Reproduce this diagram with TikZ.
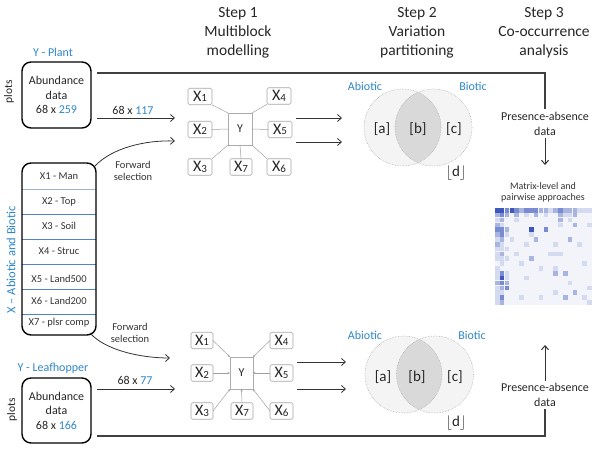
\documentclass[tikz,border=0pt]{standalone}
\usepackage{fontspec}
\setmainfont{Carlito}
\usetikzlibrary{arrows.meta,calc}
\definecolor{tblue}{RGB}{46,134,200}
\definecolor{sepblue}{RGB}{84,130,200}
\definecolor{seplight}{RGB}{160,180,205}
\definecolor{mblue}{RGB}{40,70,180}
\begin{document}
\begin{tikzpicture}[x=1pt,y=-1pt,
  every node/.style={inner sep=0pt,outer sep=0pt},
  steptxt/.style={align=center,text=black!85,font=\fontsize{15.5}{19}\selectfont},
  bluelab/.style={text=tblue,font=\fontsize{12}{14}\selectfont},
  plainlab/.style={text=black!85,font=\fontsize{12}{14.5}\selectfont,align=center},
  smalllab/.style={text=black!80,font=\fontsize{10.5}{12}\selectfont,align=center},
  databox/.style={draw=black,line width=1.4pt,rounded corners=9pt,minimum width=69pt,align=center,
     text=black!85,font=\fontsize{12}{14.5}\selectfont},
  listbox/.style={draw=black,line width=1.4pt,rounded corners=9pt,minimum width=74pt,minimum height=172pt},
  xb/.style={draw=gray!70,line width=0.6pt,rounded corners=1.5pt,minimum height=16.5pt,fill=white,
     font=\fontsize{16}{16}\selectfont,text=black!85},
  yb/.style={draw=gray!65,line width=0.6pt,minimum width=24pt,minimum height=32pt,fill=white,
     font=\fontsize{12}{12}\selectfont,text=black!85},
  arr/.style={-{Straight Barb[length=4pt,width=7pt]},line width=0.8pt,draw=black!80},
  conn/.style={line width=1.1pt,draw=black!75},
  spoke/.style={line width=0.5pt,draw=gray!75},
  spokea/.style={line width=0.5pt,draw=gray!75,-{Stealth[length=2.6pt,width=2.2pt]}},
  vlab/.style={font=\fontsize{15}{15}\selectfont,text=black!85},
  vcirc/.style={draw=gray!60,densely dotted,line width=0.6pt}
]
\useasboundingbox (0,0) rectangle (603,449);
\newcommand{\xs}[1]{X\raisebox{-0.6pt}{\fontsize{11}{11}\selectfont #1}}

% step headings
\node[steptxt] (s1) at (238,33) {Step 1\\Multiblock\\modelling};
\node[steptxt] (s2) at (417,33) {Step 2\\Variation\\partitioning};
\node[steptxt] (s3) at (544,33) {Step 3\\Co-occurrence\\analysis};

% left column
\node[bluelab] (lp) at (53,52) {Y - Plant};
\node[databox,minimum height=66pt] (yplant) at (56.5,95) {Abundance\\data\\68 x \textcolor{tblue}{259}};
\node[plainlab,rotate=90,font=\fontsize{11.5}{12}\selectfont] (pl1) at (9,92) {plots};

\foreach \yy/\sc in {189/seplight,214/sepblue,239/sepblue,264/sepblue,289/sepblue,314/sepblue}
  \draw[\sc,line width=0.9pt] (22,\yy) -- (96,\yy);
\node[listbox] (xlist) at (59,249) {};
\foreach \t/\yy in {X1 - Man/176,X2 - Top/202,X3 - Soil/226,X4 - Struc/251,X5 - Land500/279,X6 - Land200/301,X7 - plsr comp/323}
  \node[smalllab] at (59,\yy) {\t};
\node[bluelab,rotate=90,font=\fontsize{12.5}{13}\selectfont] (xlab) at (11,260) {X – Abiotic and Biotic};

\node[bluelab] (ll) at (53,368) {Y - Leafhopper};
\node[databox,minimum height=65pt] (yleaf) at (56.5,410.5) {Abundance\\data\\68 x \textcolor{tblue}{166}};
\node[plainlab,rotate=90,font=\fontsize{11.5}{12}\selectfont] (pl2) at (12,410) {plots};

% upper arrows into step 1
\coordinate (in1) at (175,118);
\coordinate (in2) at (175,141);
\node[plainlab] (n117) at (133,110) {68 x \textcolor{tblue}{117}};
\draw[arr] ([shift={(6,-10)}]yplant.south east) -- (in1);
\draw[arr] (95,166) .. controls (112,148) and (145,140) .. (in2);
\node[smalllab] (fs1) at (133,171) {Forward\\selection};

% lower arrows into step 1
\coordinate (in3) at (170,358);
\coordinate (in4) at (175,389);
\node[smalllab] (fs2) at (130,333) {Forward\\selection};
\draw[arr] (90,333) .. controls (105,350) and (140,358) .. (in3);
\node[plainlab] (n77) at (135,380) {68 x \textcolor{tblue}{77}};
\draw[arr] ([shift={(6,11)}]yleaf.north east) -- (in4);

% multiblock top
\node[yb] (yt) at (240,129) {Y};
\node[xb,minimum width=24pt] (x1t) at (200,96.5) {\xs{1}};
\node[xb,minimum width=24pt] (x2t) at (200,129.5) {\xs{2}};
\node[xb,minimum width=24pt] (x3t) at (200,167) {\xs{3}};
\node[xb,minimum width=24pt] (x4t) at (279,96) {\xs{4}};
\node[xb,minimum width=24pt] (x5t) at (280,129.5) {\xs{5}};
\node[xb,minimum width=24pt] (x6t) at (279,167) {\xs{6}};
\node[xb,minimum width=22pt] (x7t) at (241,167) {\xs{7}};
\draw[spoke] (x1t.south east) -- (yt.north west);
\draw[spoke] (x2t.east) -- (yt.west);
\draw[spoke] (x3t.north east) -- (yt.south west);
\draw[spoke] (x4t.south west) -- (yt.north east);
\draw[spoke] (x5t.west) -- (yt.east);
\draw[spoke] (x6t.north west) -- (yt.south east);
\draw[spoke] (x7t.north) -- (yt.south);

% multiblock bottom
\node[yb,minimum width=23pt] (ybt) at (241.5,373) {Y};
\node[xb,minimum width=22pt] (x1b) at (202,340.5) {\xs{1}};
\node[xb,minimum width=22pt] (x2b) at (202,373) {\xs{2}};
\node[xb,minimum width=22pt] (x3b) at (202,411) {\xs{3}};
\node[xb,minimum width=23pt] (x4b) at (281.5,340.5) {\xs{4}};
\node[xb,minimum width=23pt] (x5b) at (281.5,373) {\xs{5}};
\node[xb,minimum width=23pt] (x6b) at (281.5,411) {\xs{6}};
\node[xb,minimum width=22pt] (x7b) at (242,411) {\xs{7}};
\draw[spokea] (x1b.east) -- (ybt.north west);
\draw[spokea] (x2b.east) -- (ybt.west);
\draw[spokea] (x3b.east) -- (ybt.south west);
\draw[spokea] (x4b.west) -- (ybt.north east);
\draw[spokea] (x5b.west) -- (ybt.east);
\draw[spokea] (x6b.west) -- (ybt.south east);
\draw[spokea] (x7b.north) -- (ybt.south);

% arrows step1 -> step2
\coordinate (t1a) at (296,118); \coordinate (t1b) at (342,118);
\coordinate (t2a) at (296,142); \coordinate (t2b) at (342,142);
\coordinate (b1a) at (297,362); \coordinate (b1b) at (346,362);
\coordinate (b2a) at (297,389); \coordinate (b2b) at (346,389);
\draw[arr] (t1a) -- (t1b);
\draw[arr] (t2a) -- (t2b);
\draw[arr] (b1a) -- (b1b);
\draw[arr] (b2a) -- (b2b);

% venn top
\coordinate (vla) at (402.5,127.5);
\coordinate (vlb) at (433.5,127.5);
\fill[gray!9] (vla) circle[radius=38.5];
\fill[gray!9] (vlb) circle[radius=38.5];
\begin{scope}
  \clip (vla) circle[radius=38.5];
  \fill[gray!30] (vlb) circle[radius=38.5];
\end{scope}
\draw[vcirc] (vla) circle[radius=38.5];
\draw[vcirc] (vlb) circle[radius=38.5];
\node[vlab] (ta) at (382,129) {[a]};
\node[vlab] (tb) at (418,129) {[b]};
\node[vlab] (tc) at (454,129) {[c]};
\node[vlab] (td) at (456,173) {$\lfloor\mathrm{d}\rfloor$};
\node[bluelab] (abt) at (365,86) {Abiotic};
\node[bluelab] (bit) at (473,86) {Biotic};

% venn bottom
\coordinate (vba) at (403.5,374.5);
\coordinate (vbb) at (435,374.5);
\fill[gray!9] (vba) circle[radius=38.5];
\fill[gray!9] (vbb) circle[radius=38.5];
\begin{scope}
  \clip (vba) circle[radius=38.5];
  \fill[gray!30] (vbb) circle[radius=38.5];
\end{scope}
\draw[vcirc] (vba) circle[radius=38.5];
\draw[vcirc] (vbb) circle[radius=38.5];
\node[vlab] (ba) at (383,377) {[a]};
\node[vlab] (bb) at (417,377) {[b]};
\node[vlab] (bc) at (455,377) {[c]};
\node[vlab] (bd) at (456,423) {$\lfloor\mathrm{d}\rfloor$};
\node[bluelab] (abb) at (365,335) {Abiotic};
\node[bluelab] (bib) at (472,335) {Biotic};

% step 3
\node[plainlab] (pa1) at (545,124) {Presence-absence\\data};
\node[plainlab] (pa2) at (545,395) {Presence-absence\\data};
\draw[conn] ([shift={(6,11)}]yplant.north east) -| ([yshift=4pt]pa1.north);
\coordinate (a3) at (545,165);
\draw[arr,line width=1pt] ([yshift=-3pt]pa1.south) -- (a3);
\coordinate (a4) at (545,345);
\draw[arr,line width=1pt] ([yshift=3pt]pa2.north) -- (a4);
\draw[conn] ([yshift=-3pt]pa2.south) |- ([shift={(6,-7)}]yleaf.south east);
\node[smalllab,font=\fontsize{10}{11}\selectfont] (ml) at (543,192.5) {Matrix-level and\\pairwise approaches};

% matrix
\fill[mblue!6] (495,208) rectangle (592,305);
\foreach \mrow [count=\ri from 0] in {
 {4,4,3,4,3,2,3,3,3,2,2,1,2,3,2,2,2,1,1,1},
 {2,3,2,0,2,0,1,0,2,0,1,0,0,2,1,1,2,0,0,0},
 {1,2,0,0,1,0,0,0,0,0,0,0,0,2,0,1,0,0,0,0},
 {2,1,0,0,0,0,0,0,0,0,0,0,0,1,0,0,2,0,0,1},
 {3,3,2,0,0,0,0,4,0,0,3,0,0,0,0,0,0,0,0,0},
 {2,3,1,0,0,0,0,1,0,0,0,0,0,0,0,0,0,0,0,0},
 {1,2,0,1,0,0,0,0,2,0,0,0,0,0,0,2,0,0,0,0},
 {2,1,0,0,0,0,1,0,0,0,0,0,1,0,0,0,0,1,0,0},
 {1,1,1,0,0,0,0,0,0,0,0,0,0,0,0,0,0,0,0,0},
 {1,2,0,0,1,0,0,0,0,0,0,1,1,1,0,0,0,0,0,0},
 {1,1,1,0,0,0,0,2,0,0,0,0,0,0,0,0,0,0,0,0},
 {0,1,0,0,0,1,0,0,0,0,0,0,0,0,0,0,0,0,1,0},
 {1,0,0,0,0,0,0,0,0,1,0,0,1,0,0,0,0,0,0,0},
 {1,3,1,0,0,0,0,0,0,0,0,0,2,0,2,0,0,0,0,0},
 {1,4,1,0,0,0,1,0,0,0,0,0,0,0,0,0,0,0,0,0},
 {2,3,2,0,0,0,0,0,0,0,0,0,0,0,0,1,0,0,0,0},
 {1,2,3,0,0,0,0,0,0,0,0,0,0,0,0,0,0,0,0,1},
 {1,1,0,0,0,0,0,0,0,0,0,0,1,0,0,0,2,0,0,0},
 {1,3,0,0,0,1,0,0,0,1,0,0,0,0,2,0,0,0,1,0},
 {1,2,0,0,0,0,0,0,0,0,0,0,0,0,0,0,0,0,0,1}}
 {
  \foreach \mv [count=\ci from 0] in \mrow {
    \ifnum\mv>0
      \ifcase\mv\or\def\mcol{20}\or\def\mcol{40}\or\def\mcol{62}\or\def\mcol{90}\fi
      \fill[mblue!\mcol] ({495+\ci*4.85},{208+\ri*4.85}) rectangle ++(4.6,4.6);
    \fi
  }
 }
\end{tikzpicture}
\end{document}
